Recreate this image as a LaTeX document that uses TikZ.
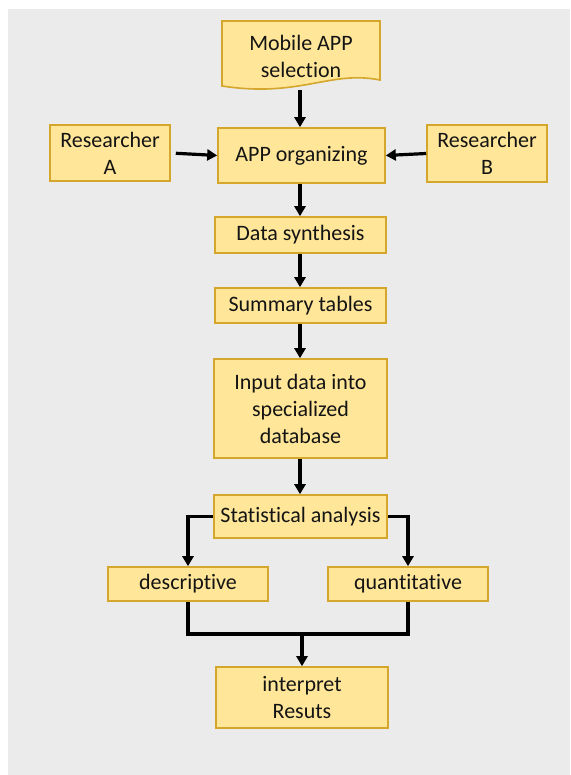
\documentclass[tikz,border=0pt]{standalone}
\usepackage{fontspec}
\setmainfont{Carlito}[Ligatures={NoCommon}]
\usetikzlibrary{arrows.meta}
\definecolor{bgc}{HTML}{EBEBEB}
\definecolor{boxfill}{HTML}{FFE699}
\definecolor{boxline}{HTML}{D4A62C}
\definecolor{txt}{HTML}{141414}
\begin{document}
\begin{tikzpicture}[x=1pt,y=-1pt,
  box/.style={draw=boxline, fill=boxfill, line width=1.6pt, align=center, text=txt,
    font=\fontsize{22}{27}\selectfont, inner sep=0pt},
  conn/.style={line width=3.2pt, black},
  arr/.style={conn, -{Triangle[length=10pt,width=11pt]}}]
\useasboundingbox (0,0) rectangle (570,775);
\fill[white] (0,0) rectangle (570,775);
\fill[bgc] (8,9) rectangle (570,775);
% document shape
\fill[boxfill] (222,21) -- (380,21) -- (380,80) .. controls (330,70) and (300,98) .. (222,86) -- cycle;
\draw[boxline, line width=1.6pt] (222,21) -- (380,21) -- (380,80) .. controls (330,70) and (300,98) .. (222,86) -- cycle;
\node[box, draw=none, fill=none, minimum width=158pt, minimum height=60pt] (doc) at (301,56) {Mobile APP\\selection};
\coordinate (docb) at (300,90);
\node[box, minimum width=120pt, minimum height=56pt] (ra) at (110,153) {Researcher\\A};
\node[box, minimum width=167pt, minimum height=55pt] (app) at (301.5,155.5) {APP organizing};
\node[box, minimum width=120pt, minimum height=57pt] (rb) at (487,153.5) {Researcher\\B};
\node[box, minimum width=171pt, minimum height=36pt] (data) at (300.5,235) {Data synthesis};
\node[box, minimum width=171pt, minimum height=35pt] (sum) at (300.5,305.5) {Summary tables};
\node[box, minimum width=173pt, minimum height=99pt] (inp) at (300.5,408.5) {Input data into\\specialized\\database};
\node[box, minimum width=173pt, minimum height=43pt] (stat) at (300.5,516.5) {Statistical analysis};
\node[box, minimum width=160pt, minimum height=34pt] (desc) at (188,584) {descriptive};
\node[box, minimum width=160pt, minimum height=34pt] (quant) at (408,584) {quantitative};
\node[box, minimum width=172pt, minimum height=61pt] (interp) at (302,697.5) {interpret\\Resuts};
\coordinate (j) at (302,634);
% connectors
\draw[arr] (docb) -- (docb |- app.north);
\draw[arr, shorten <=5pt] (ra.east) -- (app.west);
\draw[arr] (rb.west) -- (app.east);
\draw[arr] (app.south -| 300,0) -- (data.north -| 300,0);
\draw[arr] (data.south -| 300,0) -- (sum.north -| 300,0);
\draw[arr] (sum.south -| 300,0) -- (inp.north -| 300,0);
\draw[arr] (inp.south -| 300,0) -- (stat.north -| 300,0);
\draw[arr] (stat.west) -| (desc.north);
\draw[arr] (stat.east) -| (quant.north);
\draw[conn] (desc.south) |- (j) -| (quant.south);
\draw[arr] (j) -- (interp.north);
\end{tikzpicture}
\end{document}
